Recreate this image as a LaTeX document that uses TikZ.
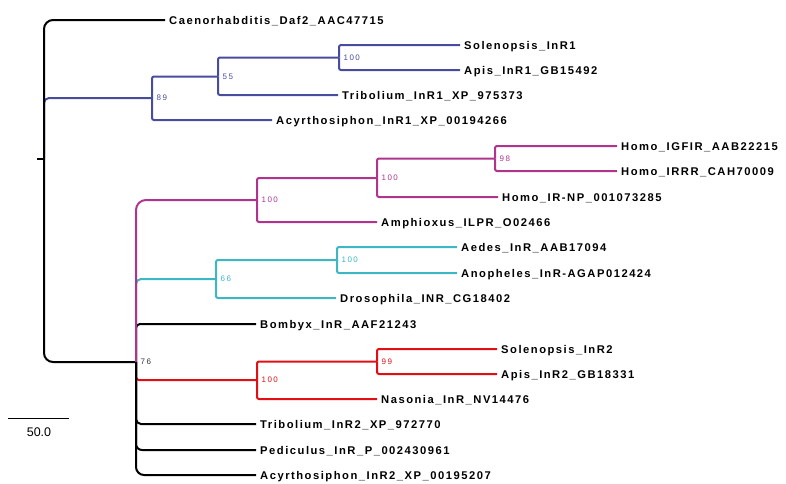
\documentclass[tikz,border=0pt]{standalone}
\usepackage{fontspec}
\setmainfont{Liberation Sans}
\newfontfamily\leaffont[LetterSpace=13.5]{Liberation Sans}
\newfontfamily\bsfont[LetterSpace=18]{Liberation Sans}
\definecolor{cblue}{RGB}{72,76,158}
\definecolor{cmag}{RGB}{176,52,142}
\definecolor{ccyan}{RGB}{60,183,195}
\definecolor{cred}{RGB}{226,14,20}
\tikzset{
  leaf/.style={anchor=west,inner xsep=4pt,inner ysep=0pt,text height=8pt,text depth=0pt,
    font=\leaffont\bfseries\fontsize{11.2}{13}\selectfont,text=black},
  boot/.style={anchor=west,inner xsep=4.5pt,inner ysep=0pt,text height=5.8pt,text depth=0pt,
    font=\bsfont\fontsize{8}{9}\selectfont},
  br/.style={line width=2pt,rounded corners=#1},
  br/.default=2pt
}
\begin{document}
\begin{tikzpicture}[x=1pt,y=-1pt]
\useasboundingbox (0,0) rectangle (786,483);
% internal nodes
\coordinate (root) at (44,159);
\coordinate (rootstub) at (37,159);
\coordinate (n89) at (152,98);
\coordinate (n55) at (218,76.5);
\coordinate (n100a) at (339,57.5);
\coordinate (n76) at (136,362);
\coordinate (nMag) at (257,200);
\coordinate (n100b) at (377,178);
\coordinate (n98) at (495,158.5);
\coordinate (nCyan) at (216,279);
\coordinate (n100c) at (337,260);
\coordinate (nRed) at (257,380);
\coordinate (n99) at (377,361.5);
% leaves
\node[leaf] (caen) at (165,20) {Caenorhabditis\_Daf2\_AAC47715};
\node[leaf] (sol1) at (460,45) {Solenopsis\_InR1};
\node[leaf] (api1) at (460,70) {Apis\_InR1\_GB15492};
\node[leaf] (tri1) at (338,95) {Tribolium\_InR1\_XP\_975373};
\node[leaf] (acy1) at (272,120) {Acyrthosiphon\_InR1\_XP\_00194266};
\node[leaf] (igf) at (617,146) {Homo\_IGFIR\_AAB22215};
\node[leaf] (irr) at (617,171) {Homo\_IRRR\_CAH70009};
\node[leaf] (hir) at (498,197) {Homo\_IR-NP\_001073285};
\node[leaf] (amp) at (377,222) {Amphioxus\_ILPR\_O02466};
\node[leaf] (aed) at (457,247) {Aedes\_InR\_AAB17094};
\node[leaf] (ano) at (457,273) {Anopheles\_InR-AGAP012424};
\node[leaf] (dro) at (336,298) {Drosophila\_INR\_CG18402};
\node[leaf] (bom) at (256,324) {Bombyx\_InR\_AAF21243};
\node[leaf] (sol2) at (497,349) {Solenopsis\_InR2};
\node[leaf] (api2) at (497,374) {Apis\_InR2\_GB18331};
\node[leaf] (nas) at (377,399) {Nasonia\_InR\_NV14476};
\node[leaf] (tri2) at (256,424) {Tribolium\_InR2\_XP\_972770};
\node[leaf] (ped) at (256,450) {Pediculus\_InR\_P\_002430961};
\node[leaf] (acy2) at (256,475) {Acyrthosiphon\_InR2\_XP\_00195207};
% blue clade
\draw[br=5pt,cblue] (root) |- (n89);
\draw[br,cblue] (n89) |- (n55);
\draw[br,cblue] (n89) |- (acy1.west);
\draw[br,cblue] (n55) |- (n100a);
\draw[br,cblue] (n55) |- (tri1.west);
\draw[br,cblue] (n100a) |- (sol1.west);
\draw[br,cblue] (n100a) |- (api1.west);
% root
\draw[br=9pt,black] (root) |- (caen.west);
\draw[br=9pt,black] (root) |- (n76);
\draw[line width=2pt] (root) -- (rootstub);
% node 76 children
\draw[br=5pt,ccyan] (n76) |- (nCyan);
\draw[br=4pt,black] (n76) |- (bom.west);
\draw[br=3pt,cred] (n76) |- (nRed);
\draw[br=10pt,cmag] (n76) |- (nMag);
\draw[br=5pt,black] (n76) |- (tri2.west);
\draw[br=6pt,black] (n76) |- (ped.west);
\draw[br=8pt,black] (n76) |- (acy2.west);
% magenta clade
\draw[br,cmag] (nMag) |- (n100b);
\draw[br,cmag] (nMag) |- (amp.west);
\draw[br,cmag] (n100b) |- (n98);
\draw[br,cmag] (n100b) |- (hir.west);
\draw[br,cmag] (n98) |- (igf.west);
\draw[br,cmag] (n98) |- (irr.west);
% cyan clade
\draw[br,ccyan] (nCyan) |- (n100c);
\draw[br,ccyan] (nCyan) |- (dro.west);
\draw[br,ccyan] (n100c) |- (aed.west);
\draw[br,ccyan] (n100c) |- (ano.west);
% red clade
\draw[br,cred] (nRed) |- (n99);
\draw[br,cred] (nRed) |- (nas.west);
\draw[br,cred] (n99) |- (sol2.west);
\draw[br,cred] (n99) |- (api2.west);
% bootstrap labels
\node[boot,text=cblue] (b89) at (n89) {89};
\node[boot,text=cblue] (b55) at (n55) {55};
\node[boot,text=cblue] (b100a) at (n100a) {100};
\node[boot,text=black!80] (b76) at (n76) {76};
\node[boot,text=cmag] (bMag) at (nMag) {100};
\node[boot,text=cmag] (b100b) at (n100b) {100};
\node[boot,text=cmag] (b98) at (n98) {98};
\node[boot,text=ccyan] (bCyan) at (nCyan) {66};
\node[boot,text=ccyan] (b100c) at (n100c) {100};
\node[boot,text=cred] (bRed) at (nRed) {100};
\node[boot,text=cred] (b99) at (n99) {99};
% scale bar
\coordinate (sbl) at (8,418);
\coordinate (sbr) at (69,418);
\draw[line width=1pt] (sbl) -- (sbr);
\node[font=\fontsize{12.5}{14}\selectfont,inner sep=0pt] (sbt) at (39,432) {50.0};
\end{tikzpicture}
\end{document}
